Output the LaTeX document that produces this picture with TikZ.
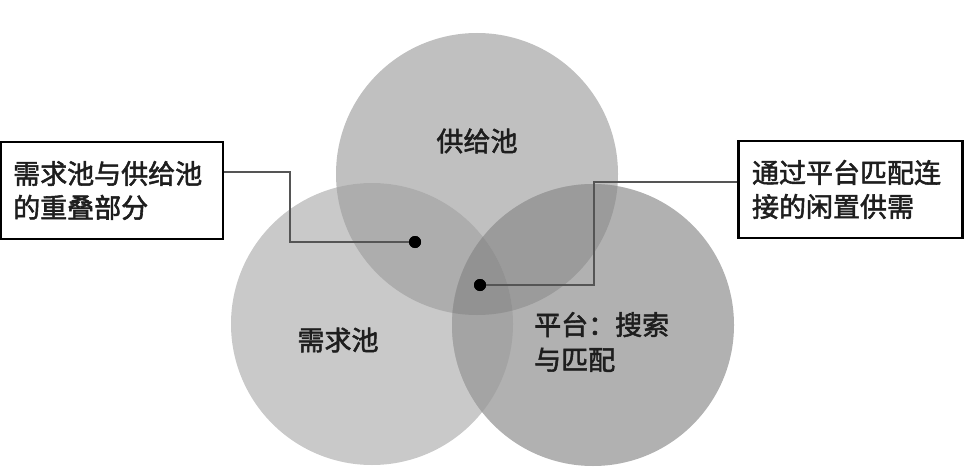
\documentclass[tikz,border=0pt]{standalone}
\usepackage{fontspec}
\setmainfont{Noto Sans CJK SC}[BoldFont={Noto Sans CJK SC}, BoldFeatures={FakeBold=2}]
\usetikzlibrary{calc}
\definecolor{cTop}{HTML}{C0C0C0}
\definecolor{cLeft}{HTML}{C9C9C9}
\definecolor{cRight}{HTML}{B1B1B1}
\definecolor{cTL}{HTML}{ADADAD}
\definecolor{cTR}{HTML}{9B9B9B}
\definecolor{cLR}{HTML}{A4A4A4}
\definecolor{cAll}{HTML}{929292}
\definecolor{txt}{HTML}{1E1E1E}
\definecolor{conn}{HTML}{555555}
\tikzset{
  pool/.style={circle, minimum size=282pt, inner sep=0pt},
  callout/.style={draw=black, line width=2.4pt, fill=white, align=left,
    minimum height=97pt, inner ysep=0pt, text=txt,
    font=\fontsize{27pt}{34pt}\selectfont\bfseries},
  label/.style={text=txt, font=\fontsize{27pt}{35pt}\selectfont\bfseries, inner sep=0pt},
  connline/.style={draw=conn, line width=1.4pt},
  dotmark/.style={circle, fill=black, minimum size=12pt, inner sep=0pt},
}
\begin{document}
\begin{tikzpicture}[x=1pt, y=-1pt]
\useasboundingbox (0,0) rectangle (966,476);
% circles
\node[pool, fill=cTop] (top) at (477,174) {};
\node[pool, fill=cLeft] (left) at (372,324) {};
\node[pool, fill=cRight] (right) at (593,325) {};
% overlaps
\begin{scope}
  \clip (477,174) circle (141);
  \fill[cTL] (372,324) circle (141);
\end{scope}
\begin{scope}
  \clip (477,174) circle (141);
  \fill[cTR] (593,325) circle (141);
\end{scope}
\begin{scope}
  \clip (372,324) circle (141);
  \fill[cLR] (593,325) circle (141);
\end{scope}
\begin{scope}
  \clip (477,174) circle (141);
  \clip (372,324) circle (141);
  \fill[cAll] (593,325) circle (141);
\end{scope}
% labels in circles
\node[label] (tlabel) at (477,141) {供给池};
\node[label] (llabel) at (338,340) {需求池};
\node[label, anchor=west, align=left] (rlabel) at (534,342) {平台：搜索\\与匹配};
% callout boxes
\node[callout, text width=198pt, inner xsep=12pt] (lbox) at (112.2,190.5) {需求池与供给池\\的重叠部分};
\node[callout, text width=197pt, inner xsep=13.5pt] (rbox) at (850.5,189.5) {通过平台匹配连\\接的闲置供需};
% dots
\node[dotmark] (d1) at (415,242) {};
\node[dotmark] (d2) at (480,285) {};
% connectors
\coordinate (b1) at (290,172);
\coordinate (b2) at (594,182);
\draw[connline] (lbox.east |- b1) -- (b1) |- (d1.center);
\draw[connline] (rbox.west |- b2) -- (b2) |- (d2.center);
\node[dotmark] at (d1) {};
\node[dotmark] at (d2) {};
\end{tikzpicture}
\end{document}
